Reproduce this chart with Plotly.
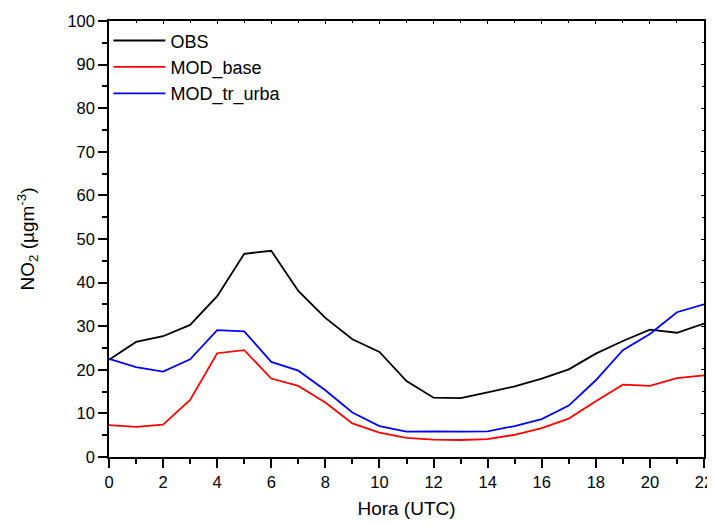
import plotly.graph_objects as go

hours = list(range(0, 23))
obs = [22.3, 26.4, 27.7, 30.3, 36.9, 46.6, 47.3, 38.1, 31.9, 27.0, 24.1, 17.4,
       13.6, 13.5, 14.8, 16.2, 18.0, 20.1, 23.7, 26.6, 29.2, 28.5, 30.6]
mod_base = [7.3, 6.9, 7.4, 13.1, 23.8, 24.5, 18.0, 16.3, 12.5, 7.7, 5.6, 4.4,
            4.0, 3.9, 4.1, 5.1, 6.6, 8.8, 12.8, 16.6, 16.3, 18.1, 18.7]
mod_tr_urba = [22.5, 20.6, 19.6, 22.4, 29.1, 28.8, 21.8, 19.8, 15.3, 10.2, 7.1, 5.8,
               5.9, 5.8, 5.9, 7.1, 8.7, 11.8, 17.6, 24.5, 28.2, 33.2, 35.0]
series_names = ["OBS", "MOD_base", "MOD_tr_urba"]
series_colors = ["#000000", "#ff0000", "#0000ff"]
x_ticks = list(range(0, 23, 2))
y_ticks = list(range(0, 101, 10))

font_family = "Liberation Sans, Arial, sans-serif"

fig = go.Figure()
for name, vals, col in zip(series_names, [obs, mod_base, mod_tr_urba], series_colors):
    fig.add_trace(go.Scatter(x=hours, y=vals, mode="lines", name=name,
                             line=dict(color=col, width=1.8)))

# invisible trace for mirrored axes
fig.add_trace(go.Scatter(x=[0], y=[0], xaxis="x2", yaxis="y2", mode="markers",
                         marker=dict(opacity=0), showlegend=False, hoverinfo="skip"))

fig.update_layout(
    width=707, height=517,
    margin=dict(l=101, r=11, t=13, b=68, autoexpand=False),
    paper_bgcolor="white", plot_bgcolor="white",
    font=dict(family=font_family, size=16, color="black"),
    showlegend=True,
    legend=dict(x=-0.001, y=0.997, xanchor="left", yanchor="top",
                bgcolor="rgba(0,0,0,0)", font=dict(size=18), itemwidth=52,
                tracegroupgap=0),
    xaxis=dict(range=[0, 22], tickvals=x_ticks, ticks="outside", ticklen=9,
               tickwidth=1.5, tickcolor="black", showline=True, linecolor="black",
               linewidth=1.5, showgrid=False, zeroline=False, automargin=False,
               tickfont=dict(size=16.5),
               minor=dict(dtick=1, ticks="outside", ticklen=5, tickwidth=1.5, tickcolor="black"),
               title=dict(text="Hora (UTC)", font=dict(size=19), standoff=12)),
    yaxis=dict(range=[0, 100], tickvals=y_ticks, ticks="outside", ticklen=9,
               tickwidth=1.5, tickcolor="black", showline=True, linecolor="black",
               linewidth=1.5, showgrid=False, zeroline=False, automargin=False,
               tickfont=dict(size=16.5),
               minor=dict(dtick=5, ticks="outside", ticklen=5, tickwidth=1.5, tickcolor="black"),
               title=dict(text="NO<sub>2</sub> (µgm<sup>-3</sup>)", font=dict(size=19), standoff=28)),
    xaxis2=dict(range=[0, 22], overlaying="x", side="top", tickvals=x_ticks,
                ticks="inside", ticklen=3, tickwidth=1, tickcolor="black",
                showticklabels=False, showline=True, linecolor="black", linewidth=1.5,
                showgrid=False, zeroline=False, anchor="y2", automargin=False,
                minor=dict(dtick=1, ticks="inside", ticklen=2, tickcolor="black")),
    yaxis2=dict(range=[0, 100], overlaying="y", side="right", tickvals=y_ticks,
                ticks="inside", ticklen=3, tickwidth=1, tickcolor="black",
                showticklabels=False, showline=True, linecolor="black", linewidth=1.5,
                showgrid=False, zeroline=False, anchor="x2", automargin=False,
                minor=dict(dtick=5, ticks="inside", ticklen=2, tickcolor="black")),
)

fig.write_html("out.html")
